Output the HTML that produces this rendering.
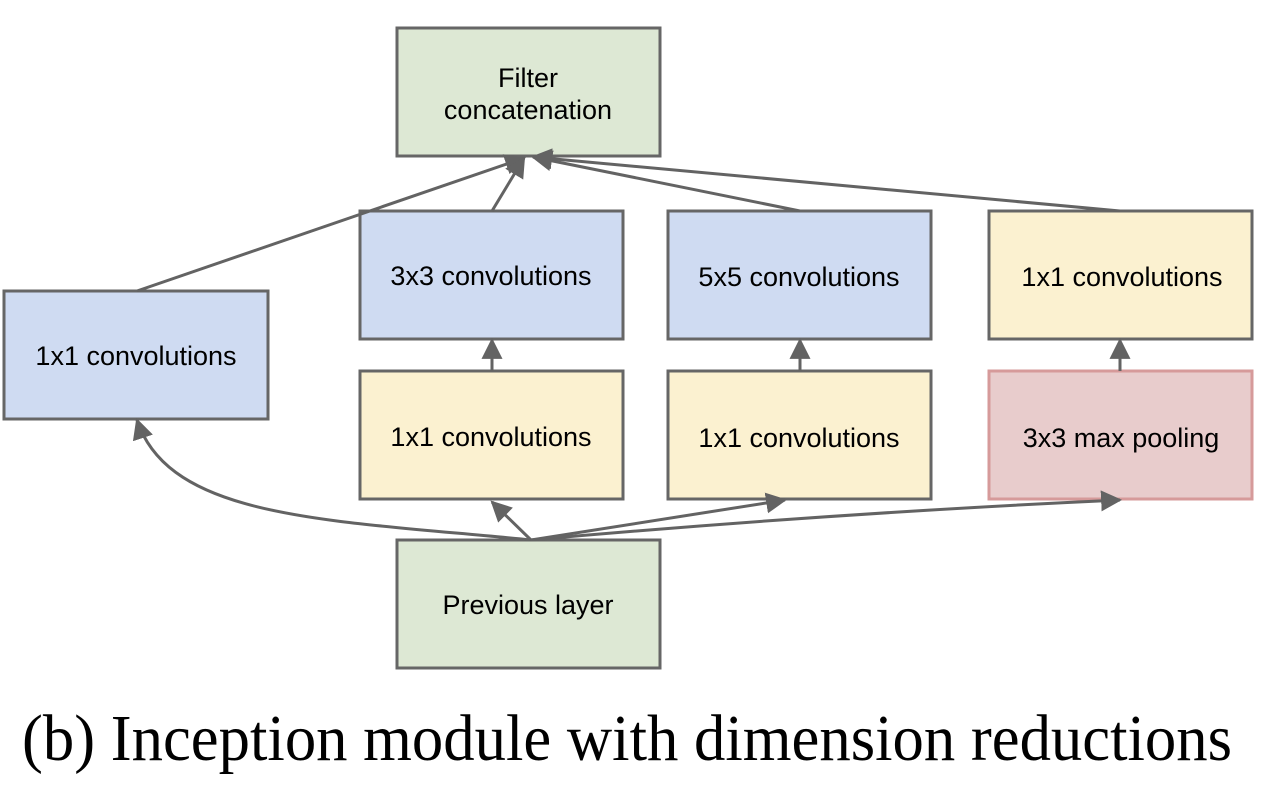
<!DOCTYPE html>
<html><head><meta charset="utf-8"><style>html,body{margin:0;padding:0;background:#fff}svg{display:block}</style></head>
<body>
<svg width="1280" height="788" viewBox="0 0 1280 788" xmlns="http://www.w3.org/2000/svg">
<defs>
<marker id="a" viewBox="0 0 10 10" refX="9" refY="5" markerWidth="7" markerHeight="7" orient="auto" markerUnits="strokeWidth"><path d="M0,0 L10,5 L0,10 z" fill="#636363"/></marker>
</defs>
<g stroke="#666" stroke-width="3">
<rect x="397" y="28" width="263" height="128" fill="#dde8d4"/>
<rect x="4" y="291" width="264" height="128" fill="#cfdbf2"/>
<rect x="360" y="211" width="263" height="128" fill="#cfdbf2"/>
<rect x="668" y="211" width="263" height="128" fill="#cfdbf2"/>
<rect x="989" y="211" width="263" height="128" fill="#fbf1d0"/>
<rect x="360" y="371" width="263" height="128" fill="#fbf1d0"/>
<rect x="668" y="371" width="263" height="128" fill="#fbf1d0"/>
<rect x="989" y="371" width="263" height="128" fill="#e8cccc" stroke="#d69a9a"/>
<rect x="397" y="540" width="263" height="128" fill="#dde8d4"/>
</g>
<g stroke="#636363" stroke-width="3" fill="none" marker-end="url(#a)">
<path d="M137,291 L524,158"/>
<path d="M492,211 L524,158"/>
<path d="M800,211 L533,157"/>
<path d="M1120,211 L533,157"/>
<path d="M492,371 L492,340"/>
<path d="M800,371 L800,340"/>
<path d="M1120,371 L1120,340"/>
<path d="M531,540 C330,520 170,520 137,420"/>
<path d="M531,540 L492,502"/>
<path d="M531,540 L785,500"/>
<path d="M531,540 C700,525 900,510 1120,500"/>
</g>
<g font-family="Liberation Sans, sans-serif" font-size="27" fill="#000" text-anchor="middle">
<text x="528" y="87">Filter</text>
<text x="528" y="119">concatenation</text>
<text x="136" y="365">1x1 convolutions</text>
<text x="491" y="285">3x3 convolutions</text>
<text x="799" y="286">5x5 convolutions</text>
<text x="1122" y="286">1x1 convolutions</text>
<text x="491" y="446">1x1 convolutions</text>
<text x="799" y="447">1x1 convolutions</text>
<text x="1121" y="447">3x3 max pooling</text>
<text x="528" y="614">Previous layer</text>
</g>
<text x="22" y="760" font-family="Liberation Serif, serif" font-size="66" textLength="1210" lengthAdjust="spacingAndGlyphs">(b) Inception module with dimension reductions</text>
</svg>
</body></html>
